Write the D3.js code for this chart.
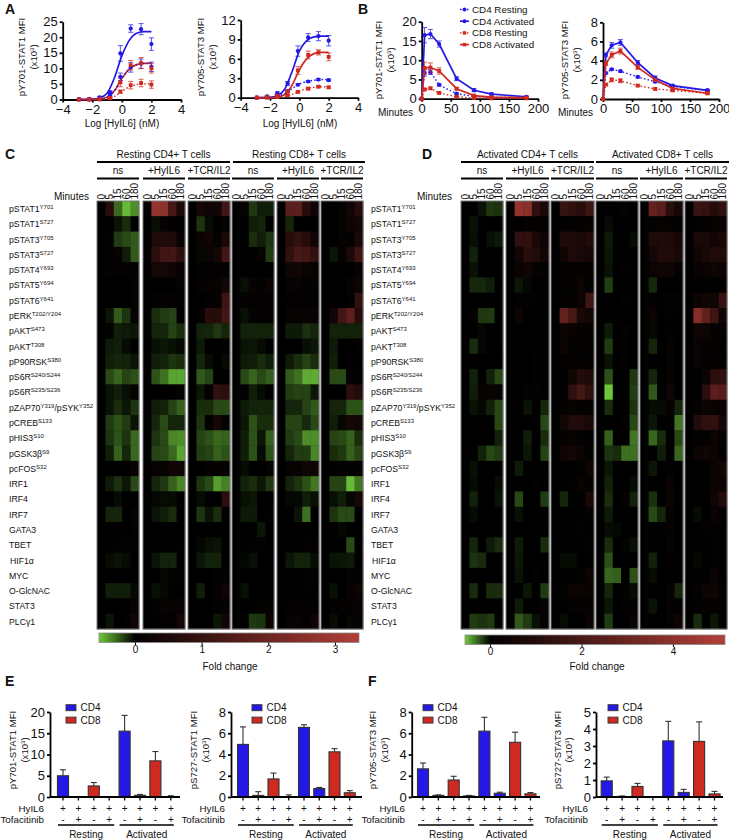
<!DOCTYPE html>
<html>
<head>
<meta charset="utf-8">
<script src="https://cdn.jsdelivr.net/npm/d3@7"></script>
<style>
  body { margin: 0; background: #fff; }
  text { font-family: "Liberation Sans", Arial, sans-serif; fill: #111; }
</style>
</head>
<body>
<div id="chart"></div>
<script>
// ---- dose response (A) ----
const logDose = [-2.9, -2.2, -1.5, -0.8, -0.1, 0.6, 1.3, 2.0];
const a1Cd4Act = [0.1, 0.2, 0.7, 2.3, 14.8, 22.8, 22.6, 17.8];
const a1Cd4ActErr = [0.1, 0.2, 0.3, 0.5, 2.5, 1.2, 1.8, 2];
const a1Cd8Act = [0, 0, 0.2, 0.5, 5.5, 11, 11.7, 10];
const a1Cd8ActErr = [0, 0, 0.1, 0.3, 1.4, 1.5, 1.8, 1.5];
const a1Cd4Rest = [0, 0, 0.3, 1.5, 7.3, 10.3, 11.5, 10.5];
const a1Cd4RestErr = [0, 0, 0.1, 0.4, 1.2, 1.5, 1.5, 1.5];
const a1Cd8Rest = [0, 0, 0, 0.4, 2.5, 4.6, 5.3, 4.8];
const a1Cd8RestErr = [0, 0, 0, 0.2, 0.5, 1.2, 1.2, 1.2];

const a2Cd4Act = [0, 0.2, 0.7, 2.2, 7.2, 9.3, 9.5, 8.8];
const a2Cd4ActErr = [0, 0.1, 0.2, 0.3, 0.8, 0.6, 0.7, 0.8];
const a2Cd8Act = [0, 0.1, 0.3, 1, 4.2, 6.6, 7, 6.3];
const a2Cd8ActErr = [0, 0, 0.1, 0.2, 0.6, 0.6, 0.4, 0.6];
const a2Cd4Rest = [0, 0.1, 0.4, 1, 2, 2.5, 2.8, 2.7];
const a2Cd4RestErr = [0, 0, 0.1, 0.1, 0.15, 0.15, 0.15, 0.15];
const a2Cd8Rest = [0, 0, 0.1, 0.4, 0.9, 1.4, 1.7, 1.6];
const a2Cd8RestErr = [0, 0, 0, 0.1, 0.15, 0.2, 0.15, 0.15];

// fitted curves
const fitDose = [-3, -2, -1.5, -1, -0.5, 0, 0.5, 1, 1.5, 2];
const a1FitCd4Act = [0, 0.1, 0.5, 2, 7, 14, 19, 21.3, 21.8, 21.8];
const a1FitCd8Act = [0, 0, 0.1, 0.7, 2.8, 6.8, 9.8, 11.2, 11.6, 11.7];
const a1FitCd8Rest = [0, 0, 0, 0.2, 1, 2.6, 4, 4.8, 5, 5.1];
const a2FitCd4Act = [0, 0.05, 0.3, 1.3, 4, 7.2, 8.8, 9.4, 9.5, 9.5];
const a2FitCd8Act = [0, 0, 0.1, 0.5, 1.9, 4.3, 6, 6.8, 7, 7];
const a2FitCd4Rest = [0, 0, 0.2, 0.6, 1.4, 2.1, 2.5, 2.7, 2.8, 2.8];
const a2FitCd8Rest = [0, 0, 0, 0.2, 0.5, 1, 1.4, 1.6, 1.7, 1.7];

// ---- time course (B) ----
const minutes = [0, 5, 15, 30, 60, 90, 120, 180];
const b1Cd4Act = [0, 16.5, 16.8, 14.2, 5.2, 2.2, 1.2, 0.5];
const b1Cd4ActErr = [0, 2, 1.2, 0.8, 0.5, 0.4, 0.3, 0.2];
const b1Cd8Act = [0, 8, 8.1, 7.2, 2.6, 0.8, 0.4, 0.3];
const b1Cd8ActErr = [0, 1.5, 1.2, 0.8, 0.3, 0.2, 0.1, 0.1];
const b1Cd4Rest = [0, 6.7, 6.9, 3.6, 1.3, 0.6, 0.3, 0.3];
const b1Cd4RestErr = [0, 0.8, 0.6, 0.3, 0.2, 0.1, 0.1, 0.1];
const b1Cd8Rest = [0, 2.4, 2.7, 1.5, 0.5, 0.2, 0.1, 0.1];
const b1Cd8RestErr = [0, 0.3, 0.3, 0.2, 0.1, 0.1, 0.05, 0.05];

const b2Cd4Act = [0, 4.6, 5.6, 5.9, 3.8, 2.2, 1.4, 0.9];
const b2Cd4ActErr = [0, 0.2, 0.3, 0.3, 0.2, 0.2, 0.1, 0.1];
const b2Cd8Act = [0, 3.7, 4.6, 5, 3.3, 2, 1.1, 0.6];
const b2Cd8ActErr = [0, 0.2, 0.3, 0.3, 0.2, 0.1, 0.1, 0.1];
const b2Cd4Rest = [0, 2.7, 3.1, 2.9, 2.3, 1.8, 1.3, 0.9];
const b2Cd4RestErr = [0, 0.1, 0.1, 0.1, 0.1, 0.1, 0.1, 0.1];
const b2Cd8Rest = [0, 1.5, 2, 1.9, 1.4, 1.05, 0.9, 0.6];
const b2Cd8RestErr = [0, 0.1, 0.2, 0.2, 0.1, 0.1, 0.1, 0.1];

// ---- heatmaps (C, D), fold change x 100, 6 blocks of 5 time points per row ----
const rowLabels = ["pSTAT1^Y701", "pSTAT1^S727", "pSTAT3^Y705", "pSTAT3^S727", "pSTAT4^Y693", "pSTAT5^Y694",
  "pSTAT6^Y641", "pERK^T202/Y204", "pAKT^S473", "pAKT^T308", "pP90RSK^S380", "pS6R^S240/S244", "pS6R^S235/S236",
  "pZAP70^Y319/pSYK^Y352", "pCREB^S133", "pHIS3^S10", "pGSK3β^S9", "pcFOS^S32", "IRF1", "IRF4", "IRF7", "GATA3",
  "TBET", "HIF1α", "MYC", "O-GlcNAC", "STAT3", "PLCγ1"];
const timeLabels = ["0", "5", "15", "60", "180"];
const blockLabels = ["ns", "+HyIL6", "+TCR/IL2", "ns", "+HyIL6", "+TCR/IL2"];

const heatC = [
  [0,70,-28,-50,-38, 0,280,260,130,50, 0,40,30,30,120, 0,15,-15,-8,-8, 0,160,170,70,25, 0,0,10,30,70],
  [0,0,-5,-12,0, 0,-4,10,0,0, 0,-14,-3,0,12, 0,0,-8,-10,0, 0,-10,0,0,0, 0,0,10,25,35],
  [0,10,-16,-20,-24, 0,60,60,55,15, 0,20,25,10,45, 0,0,-12,-8,-14, 0,70,90,70,30, 0,0,10,10,50],
  [0,5,15,-8,-24, 0,80,120,120,80, 0,-2,20,40,120, 0,0,0,15,-16, 0,90,130,120,90, 0,-6,10,50,110],
  [0,10,5,5,5, 0,40,40,30,15, 0,5,5,5,10, 0,0,0,0,0, 0,30,30,20,15, 0,0,0,0,15],
  [0,0,0,0,10, 0,0,0,0,15, 0,10,15,15,35, 0,-4,15,10,20, 0,15,15,5,10, 0,0,0,15,20],
  [0,0,0,0,10, 0,5,10,5,10, 0,0,5,10,110, 0,10,5,5,5, 0,5,5,5,5, 0,0,0,5,90],
  [0,-6,-24,-14,10, 0,-12,-16,-18,0, 0,10,70,70,120, 0,-4,10,5,5, 0,15,15,15,15, 0,30,120,170,70],
  [0,10,-8,-7,-6, 0,-10,-10,-18,-12, 0,-9,-10,-15,-10, 0,-9,-9,-9,-9, 0,-7,-7,-13,-10, 0,-9,-9,-9,-9],
  [0,-7,-8,-3,0, 0,-4,-6,-4,-2, 0,-7,0,0,5, 0,-5,-6,-3,0, 0,0,0,-4,-6, 0,-7,0,0,5],
  [0,-8,-10,-9,-5, 0,-8,-9,-14,-12, 0,-10,-3,0,-3, 0,-7,-8,-12,-8, 0,-7,-12,-18,-12, 0,-8,0,5,0],
  [0,-20,-27,-18,-22, 0,-22,-30,-44,-44, 0,-24,-18,0,3, 0,-20,-27,-20,-25, 0,-24,-30,-46,-46, 0,-20,-20,5,5],
  [0,-5,-8,-4,10, 0,2,2,0,10, 0,-6,5,90,80, 0,5,-8,-3,3, 0,-16,-18,-18,-6, 0,0,0,80,60],
  [0,-5,-12,-6,-14, 0,-8,-9,-18,-26, 0,-12,-12,-20,-20, 0,-7,-9,-9,-9, 0,-10,-10,-18,-24, 0,-10,-10,-22,-22],
  [0,-16,-22,-16,-5, 0,-10,-20,-10,-10, 0,-14,5,40,10, 0,-6,-22,-12,-12, 0,-18,-18,-11,-20, 0,-8,-2,40,35],
  [0,-14,-22,-14,-28, 0,-14,-20,-36,-38, 0,-18,-22,-28,-26, 0,-8,-22,-6,-26, 0,-16,-20,-38,-38, 0,-18,-20,-26,-12],
  [0,-8,-26,-10,-28, 0,-18,-20,-28,-44, 0,-16,-18,-26,-22, 0,-8,-22,-3,-22, 0,-10,-16,-16,-36, 0,-12,-15,-26,-18],
  [0,0,0,0,15, 0,15,15,30,30, 0,0,10,10,15, 0,-3,0,0,10, 0,15,15,25,25, 0,0,5,5,10],
  [0,-7,-13,-6,-20, 0,-10,-15,-26,-36, 0,-14,-20,-42,-34, 0,-9,-12,-6,-15, 0,-9,-14,-22,-32, 0,-18,-18,-50,-32],
  [0,0,-3,0,0, 0,-2,-3,-3,0, 0,-3,0,0,80, 0,-4,-6,0,0, 0,-2,-2,-8,-4, 0,-4,-8,-2,40],
  [0,-10,-10,0,10, 0,-5,-8,-12,0, 0,-14,-5,-12,5, 0,-7,-7,0,8, 0,0,-5,-30,0, 0,-14,-20,-20,0],
  [0,0,0,0,5, 0,0,0,0,0, 0,0,0,0,0, 0,0,0,-6,0, 0,0,0,0,0, 0,0,-2,0,0],
  [0,3,5,5,8, 0,0,3,3,5, 0,-2,-4,-5,0, 0,0,8,5,0, 0,3,3,10,8, 0,0,0,-20,0],
  [0,-3,-5,-3,0, 0,-5,-9,-9,0, 0,-6,-9,-9,0, 0,-2,-4,0,0, 0,-6,-9,-9,-3, 0,-5,-6,-7,0],
  [0,0,3,0,0, 0,0,-2,5,5, 0,0,0,10,10, 0,0,0,0,0, 0,0,0,5,5, 0,0,0,10,10],
  [0,-8,-8,-8,-2, 0,-4,-2,3,0, 0,-8,0,10,25, 0,-4,0,0,0, 0,0,0,5,0, 0,-4,0,15,20],
  [0,0,0,0,15, 0,10,15,15,15, 0,0,0,5,15, 0,0,0,10,10, 0,5,5,5,5, 0,10,10,10,15],
  [0,-5,0,5,30, 0,3,5,5,35, 0,0,0,-6,30, 0,10,-15,-14,20, 0,15,15,5,25, 0,-3,0,-2,15]
];

const heatD = [
  [0,5,-5,-15,-14, 0,420,390,130,70, 0,150,130,110,170, 0,5,5,15,5, 0,280,250,110,60, 0,160,140,100,130],
  [0,-5,0,0,0, 0,0,10,10,10, 0,5,10,15,15, 0,-3,0,0,0, 0,15,15,15,5, 0,5,10,25,25],
  [0,-4,0,-4,-7, 0,130,130,70,40, 0,80,80,70,90, 0,-7,0,0,-3, 0,80,90,80,60, 0,70,70,50,70],
  [0,-9,0,0,0, 0,50,110,90,50, 0,40,80,70,60, 0,-6,0,0,0, 0,60,90,90,70, 0,50,70,90,80],
  [0,-5,0,5,5, 0,25,40,15,10, 0,15,15,15,15, 0,-5,0,10,5, 0,30,40,40,10, 0,25,25,40,30],
  [0,-11,-11,-8,3, 0,-6,-2,0,5, 0,10,10,30,10, 0,-17,0,0,0, 0,-11,0,0,0, 0,0,5,5,10],
  [0,0,0,0,5, 0,10,10,10,5, 0,10,10,30,170, 0,0,0,10,5, 0,10,5,15,10, 0,30,50,40,150],
  [0,10,-15,-16,0, 0,35,0,5,5, 0,280,200,70,50, 0,0,0,0,0, 0,30,0,10,5, 0,380,270,170,40],
  [0,0,-2,5,5, 0,0,5,5,5, 0,30,25,15,15, 0,-7,0,15,0, 0,-2,0,10,5, 0,40,35,20,20],
  [0,-12,-2,0,0, 0,0,0,5,5, 0,30,15,10,10, 0,-16,0,10,0, 0,-10,0,15,0, 0,25,20,15,10],
  [0,0,0,0,0, 0,0,0,10,5, 0,10,10,10,10, 0,-5,0,10,0, 0,0,0,15,0, 0,25,20,15,10],
  [0,-9,0,-9,-20, 0,0,0,10,5, 0,0,50,100,80, 0,-22,0,5,-15, 0,-10,0,20,0, 0,0,30,120,130],
  [0,-8,25,25,20, 0,0,15,15,5, 0,0,130,190,130, 0,-54,5,10,-17, 0,-24,0,40,0, 0,0,120,260,240],
  [0,-5,-2,-9,-20, 0,0,-5,5,-10, 0,15,25,15,15, 0,-12,0,5,-14, 0,-3,-3,15,-10, 0,15,30,25,25],
  [0,0,0,0,-20, 0,0,0,0,-20, 0,50,90,90,70, 0,0,0,10,-20, 0,-6,0,5,-32, 0,90,130,130,60],
  [0,0,0,0,-9, 0,0,-8,5,-12, 0,15,25,15,5, 0,-26,0,3,-32, 0,-28,-12,5,-20, 0,10,10,30,20],
  [0,0,-9,-20,-16, 0,0,-6,3,-18, 0,40,60,30,15, 0,-14,-12,-30,-30, 0,0,-8,5,-28, 0,30,40,30,10],
  [0,-4,0,0,5, 0,-7,0,0,0, 0,0,5,10,40, 0,-6,0,3,5, 0,-6,0,10,0, 0,0,5,30,50],
  [0,-3,0,0,-3, 0,0,0,10,0, 0,5,10,25,20, 0,-9,0,0,-3, 0,0,0,25,0, 0,5,10,30,30],
  [0,-9,0,0,-5, 0,-20,0,0,-16, 0,-10,0,5,70, 0,-12,0,15,-9, 0,-13,0,30,0, 0,0,0,40,90],
  [0,-3,0,5,5, 0,-4,0,0,5, 0,0,0,5,15, 0,-7,0,5,5, 0,-20,-10,15,0, 0,-3,0,25,15],
  [0,0,0,5,5, 0,0,0,0,0, 0,0,0,10,5, 0,-3,-2,0,0, 0,5,5,15,0, 0,0,10,10,5],
  [0,-10,0,-7,-12, 0,-7,0,0,-12, 0,0,0,5,10, 0,-12,0,15,-4, 0,0,0,15,0, 0,0,0,10,5],
  [0,-14,-12,0,0, 0,-6,0,0,0, 0,-3,-3,0,5, 0,-22,0,5,0, 0,-9,0,10,0, 0,-2,0,10,5],
  [0,0,0,5,5, 0,-5,0,10,0, 0,0,5,15,30, 0,-28,-26,0,-22, 0,-3,0,5,0, 0,0,5,25,10],
  [0,-12,0,-12,-12, 0,0,-6,5,-16, 0,15,30,30,25, 0,-10,5,10,-3, 0,0,0,20,-10, 0,15,30,40,15],
  [0,0,0,0,10, 0,-7,0,5,15, 0,5,15,15,15, 0,-6,0,10,10, 0,-5,0,20,10, 0,5,15,20,20],
  [0,-16,-14,-16,15, 0,-24,-16,-4,20, 0,-3,0,0,30, 0,-16,0,0,25, 0,0,0,15,40, 0,-12,0,-6,15]
];

// ---- bars (E, F) ----
const barCells = ["CD4", "CD4", "CD8", "CD8", "CD4", "CD4", "CD8", "CD8"];
const hyil6Row = ["+", "+", "+", "+", "+", "+", "+", "+"];
const tofaRow = ["-", "+", "-", "+", "-", "+", "-", "+"];
const e1Bars = [5, 0, 2.6, 0, 15.5, 0.4, 8.5, 0.1];
const e1Errs = [1.4, 0, 0.8, 0, 3.7, 0.2, 2.2, 0.2];
const e2Bars = [4.95, 0.15, 1.7, 0, 6.55, 0.8, 4.25, 0.4];
const e2Errs = [1.65, 0.35, 0.55, 0.2, 0.25, 0.1, 0.3, 0.2];
const f1Bars = [2.65, 0.15, 1.6, 0.1, 6.2, 0.35, 5.15, 0.3];
const f1Errs = [0.55, 0.05, 0.35, 0.05, 1.3, 0.1, 0.95, 0.12];
const f2Bars = [0.95, 0.03, 0.62, 0, 3.3, 0.27, 3.27, 0.18];
const f2Errs = [0.22, 0.03, 0.18, 0, 1.15, 0.18, 1.15, 0.15];

const BLUE = "#2418e6", RED = "#cf2a20";

const svg = d3.select("#chart").append("svg")
  .attr("width", 729)
  .attr("height", 840)
  .style("display", "block");

//////////
// HELPERS //
//////////
function label(x, y, str, size, anchor, weight) {
  return svg.append("text")
    .attr("x", x).attr("y", y)
    .attr("text-anchor", anchor || "start")
    .attr("font-size", size)
    .attr("font-weight", weight || "normal")
    .text(str);
}

// two rotated lines next to a y axis
function yTitle(x1, x2, cy, title) {
  svg.append("text")
    .attr("transform", `translate(${x1}, ${cy}) rotate(-90)`)
    .attr("text-anchor", "middle").attr("font-size", 9.6)
    .text(title);
  const t = svg.append("text")
    .attr("transform", `translate(${x2}, ${cy}) rotate(-90)`)
    .attr("text-anchor", "middle").attr("font-size", 9.6);
  t.append("tspan").text("(x10");
  t.append("tspan").attr("font-size", 6).attr("dy", -3).text("3");
  t.append("tspan").attr("dy", 3).text(")");
}

function styleAxis(g) {
  g.selectAll("path, line").attr("stroke", "#000").attr("stroke-width", 1.8);
  g.selectAll("text").attr("font-size", 13).attr("font-family", '"Liberation Sans", Arial, sans-serif');
  g.attr("font-family", null);
}

function drawAxes(box, xDomain, xTicks, yDomain, yTicks, xFormat) {
  const x = d3.scaleLinear().domain(xDomain).range([box.x0, box.x1]);
  const y = d3.scaleLinear().domain(yDomain).range([box.y0, box.y1]);
  svg.append("g")
    .attr("transform", `translate(0, ${box.y0})`)
    .call(d3.axisBottom(x).tickValues(xTicks).tickSize(3).tickPadding(2).tickSizeOuter(0).tickFormat(xFormat || d3.format("d")))
    .call(styleAxis);
  svg.append("g")
    .attr("transform", `translate(${box.x0}, 0)`)
    .call(d3.axisLeft(y).tickValues(yTicks).tickSize(3).tickPadding(2).tickSizeOuter(0).tickFormat(d3.format("d")))
    .call(styleAxis);
  return { x, y };
}

function errorBars(sc, xs, ys, errs, color) {
  const g = svg.append("g").attr("stroke", color).attr("stroke-width", 1).attr("opacity", 0.75);
  xs.forEach((xv, i) => {
    if (errs[i] <= 0) return;
    const px = sc.x(xv);
    g.append("line").attr("x1", px).attr("x2", px).attr("y1", sc.y(ys[i] - errs[i])).attr("y2", sc.y(ys[i] + errs[i]));
    [ys[i] - errs[i], ys[i] + errs[i]].forEach(v => {
      g.append("line").attr("x1", px - 2.5).attr("x2", px + 2.5).attr("y1", sc.y(v)).attr("y2", sc.y(v));
    });
  });
}

function markers(sc, xs, ys, color, square) {
  const sym = d3.symbol().type(square ? d3.symbolSquare : d3.symbolCircle).size(square ? 15 : 14);
  svg.append("g").selectAll("path")
    .data(xs)
    .join("path")
    .attr("d", sym)
    .attr("fill", color)
    .attr("transform", (d, i) => `translate(${sc.x(d)}, ${sc.y(ys[i])})`);
}

function seriesLine(sc, xs, ys, color, dotted, curve) {
  const line = d3.line()
    .x(d => sc.x(d))
    .y((d, i) => sc.y(ys[i]))
    .curve(curve || d3.curveLinear);
  svg.append("path")
    .attr("d", line(xs))
    .attr("fill", "none")
    .attr("stroke", color)
    .attr("stroke-width", dotted ? 1.4 : 1.7)
    .attr("stroke-dasharray", dotted ? "1.5,2.2" : null);
}

//////////
// PANEL A //
//////////
label(5, 14, "A", 14, "start", "bold");
label(358, 14, "B", 14, "start", "bold");

const a1 = drawAxes({ x0: 62.7, x1: 181, y0: 99.5, y1: 21.7 }, [-4, 4], [-4, -2, 0, 2, 4], [0, 25], [0, 5, 10, 15, 20, 25]);
yTitle(25, 37, 57, "pY701-STAT1 MFI");
label(122, 127, "Log [HyIL6] (nM)", 10, "middle");
seriesLine(a1, fitDose, a1FitCd4Act, BLUE, false, d3.curveMonotoneX);
seriesLine(a1, fitDose, a1FitCd8Act, RED, false, d3.curveMonotoneX);
seriesLine(a1, fitDose, a1FitCd8Act, BLUE, true, d3.curveMonotoneX);
seriesLine(a1, fitDose, a1FitCd8Rest, RED, true, d3.curveMonotoneX);
errorBars(a1, logDose, a1Cd4Act, a1Cd4ActErr, BLUE);
errorBars(a1, logDose, a1Cd4Rest, a1Cd4RestErr, BLUE);
errorBars(a1, logDose, a1Cd8Act, a1Cd8ActErr, RED);
errorBars(a1, logDose, a1Cd8Rest, a1Cd8RestErr, RED);
markers(a1, logDose, a1Cd4Act, BLUE, false);
markers(a1, logDose, a1Cd4Rest, BLUE, false);
markers(a1, logDose, a1Cd8Act, RED, true);
markers(a1, logDose, a1Cd8Rest, RED, true);

const a2 = drawAxes({ x0: 240.7, x1: 358, y0: 97.7, y1: 20 }, [-4, 4], [-4, -2, 0, 2, 4], [0, 12], [0, 3, 6, 9, 12]);
yTitle(204, 216, 57, "pY705-STAT3 MFI");
label(300, 127, "Log [HyIL6] (nM)", 10, "middle");
seriesLine(a2, fitDose, a2FitCd4Act, BLUE, false, d3.curveMonotoneX);
seriesLine(a2, fitDose, a2FitCd8Act, RED, false, d3.curveMonotoneX);
seriesLine(a2, fitDose, a2FitCd4Rest, BLUE, true, d3.curveMonotoneX);
seriesLine(a2, fitDose, a2FitCd8Rest, RED, true, d3.curveMonotoneX);
errorBars(a2, logDose, a2Cd4Act, a2Cd4ActErr, BLUE);
errorBars(a2, logDose, a2Cd4Rest, a2Cd4RestErr, BLUE);
errorBars(a2, logDose, a2Cd8Act, a2Cd8ActErr, RED);
errorBars(a2, logDose, a2Cd8Rest, a2Cd8RestErr, RED);
markers(a2, logDose, a2Cd4Act, BLUE, false);
markers(a2, logDose, a2Cd4Rest, BLUE, false);
markers(a2, logDose, a2Cd8Act, RED, true);
markers(a2, logDose, a2Cd8Rest, RED, true);

//////////
// PANEL B //
//////////
function timeCourse(box, yDomain, yTicks, series) {
  const sc = drawAxes(box, [0, 200], [0, 50, 100, 150, 200], yDomain, yTicks);
  series.forEach(s => {
    seriesLine(sc, minutes, s.ys, s.color, s.dotted);
    errorBars(sc, minutes, s.ys, s.errs, s.color);
    markers(sc, minutes, s.ys, s.color, s.square);
  });
}

timeCourse({ x0: 421.7, x1: 538, y0: 98.7, y1: 21.7 }, [0, 20], [0, 5, 10, 15, 20], [
  { ys: b1Cd4Rest, errs: b1Cd4RestErr, color: BLUE, dotted: true },
  { ys: b1Cd4Act, errs: b1Cd4ActErr, color: BLUE },
  { ys: b1Cd8Rest, errs: b1Cd8RestErr, color: RED, dotted: true, square: true },
  { ys: b1Cd8Act, errs: b1Cd8ActErr, color: RED, square: true }
]);
timeCourse({ x0: 603, x1: 719, y0: 99, y1: 22.3 }, [0, 8], [0, 2, 4, 6, 8], [
  { ys: b2Cd4Rest, errs: b2Cd4RestErr, color: BLUE, dotted: true },
  { ys: b2Cd4Act, errs: b2Cd4ActErr, color: BLUE },
  { ys: b2Cd8Rest, errs: b2Cd8RestErr, color: RED, dotted: true, square: true },
  { ys: b2Cd8Act, errs: b2Cd8ActErr, color: RED, square: true }
]);
yTitle(382, 394, 60, "pY701-STAT1 MFI");
yTitle(568, 580, 60, "pY705-STAT3 MFI");
label(378, 116, "Minutes", 10);
label(558, 116, "Minutes", 10);

const legendB = [
  { name: "CD4 Resting", color: BLUE, dotted: true },
  { name: "CD4 Activated", color: BLUE },
  { name: "CD8 Resting", color: RED, dotted: true, square: true },
  { name: "CD8 Activated", color: RED, square: true }
];
legendB.forEach((d, i) => {
  const ly = 9.5 + i * 11.7;
  const g = svg.append("g").attr("transform", `translate(460, ${ly})`);
  g.append("line").attr("x1", 0).attr("x2", 9).attr("stroke", d.color)
    .attr("stroke-width", d.dotted ? 1.4 : 1.7).attr("stroke-dasharray", d.dotted ? "1.5,2" : null);
  g.append("path").attr("d", d3.symbol().type(d.square ? d3.symbolSquare : d3.symbolCircle).size(12))
    .attr("transform", "translate(4.5, 0)").attr("fill", d.color);
  label(472, ly + 3.4, d.name, 9.8);
});

//////////
// HEATMAPS //
//////////
function rowLabel(x, y, str) {
  const t = svg.append("text").attr("x", x).attr("y", y + 3.3).attr("font-size", 8.7);
  // split base text and ^superscript parts
  let back = false;
  str.split(/(\^(?:[A-Z0-9]+\/[A-Z0-9]+|[A-Z0-9]+))/).filter(s => s).forEach(s => {
    if (s[0] === "^") {
      t.append("tspan").attr("font-size", 6).attr("dy", -3).text(s.slice(1));
      back = true;
    } else {
      t.append("tspan").attr("dy", back ? 3 : null).text(s);
      back = false;
    }
  });
}

function heatmap(opt) {
  const color = d3.scaleLinear()
    .domain([opt.domain[0], 0, opt.domain[1] * 0.5, opt.domain[1]])
    .range(["#6fc93c", "#000000", "#5c1f1c", "#b23f38"]);

  const y = d3.scaleBand().domain(d3.range(rowLabels.length)).range([201, 629]);
  const x = d3.scaleBand().domain(d3.range(timeLabels.length)).paddingInner(0);

  opt.blocks.forEach((b, bi) => {
    x.range(b);
    const g = svg.append("g");
    g.append("rect")
      .attr("x", b[0]).attr("y", 201).attr("width", b[1] - b[0]).attr("height", 428)
      .attr("fill", "#000");
    opt.data.forEach((row, ri) => {
      timeLabels.forEach((t, ci) => {
        const v = row[bi * 5 + ci];
        g.append("rect")
          .attr("x", x(ci)).attr("y", y(ri))
          .attr("width", x.bandwidth() + 0.3).attr("height", y.bandwidth() + 0.3)
          .attr("fill", color(v));
      });
    });
    g.append("rect")
      .attr("x", b[0]).attr("y", 201).attr("width", b[1] - b[0]).attr("height", 428)
      .attr("fill", "none").attr("stroke", "#777").attr("stroke-width", 1);

    // column labels
    timeLabels.forEach((t, ci) => {
      svg.append("text")
        .attr("transform", `translate(${x(ci) + x.bandwidth() / 2 + 3.4}, 199.5) rotate(-90)`)
        .attr("font-size", 10).text(t);
    });
    // treatment header
    svg.append("line").attr("x1", b[0]).attr("x2", b[1]).attr("y1", 178.5).attr("y2", 178.5)
      .attr("stroke", "#000").attr("stroke-width", 2);
    label((b[0] + b[1]) / 2, 174, blockLabels[bi], 10, "middle");
  });

  // cell type headers
  opt.heads.forEach(h => {
    svg.append("line").attr("x1", h.x0).attr("x2", h.x1).attr("y1", 162).attr("y2", 162)
      .attr("stroke", "#000").attr("stroke-width", 2);
    label((h.x0 + h.x1) / 2, 158, h.name, 10, "middle");
  });

  label(opt.minutesX, 199.5, "Minutes", 10, "end");
  rowLabels.forEach((r, i) => rowLabel(opt.labelX + (r === "HIF1α" ? 1 : 0), y(i) + y.bandwidth() / 2, r));

  // colour bar
  const gradId = "grad" + opt.id;
  const grad = svg.append("defs").append("linearGradient").attr("id", gradId);
  const span = opt.barDomain[1] - opt.barDomain[0];
  color.domain().forEach((d, i) => {
    grad.append("stop")
      .attr("offset", (d - opt.barDomain[0]) / span)
      .attr("stop-color", color.range()[i]);
  });
  svg.append("rect")
    .attr("x", opt.bar[0]).attr("y", opt.barY)
    .attr("width", opt.bar[1] - opt.bar[0]).attr("height", 9.5)
    .attr("fill", `url(#${gradId})`)
    .attr("stroke", "#888").attr("stroke-width", 0.8);
  const bx = d3.scaleLinear().domain(opt.barDomain.map(d => d / 100)).range(opt.bar);
  svg.append("g")
    .attr("transform", `translate(0, ${opt.barY + 9.5})`)
    .call(d3.axisBottom(bx).tickValues(opt.barTicks).tickSize(2.5).tickPadding(1).tickFormat(d3.format("d")))
    .call(g => {
      g.select(".domain").remove();
      g.selectAll("line").attr("stroke", "#000");
      g.selectAll("text").attr("font-size", 10).attr("font-family", '"Liberation Sans", Arial, sans-serif');
    });
  label(opt.barLabelX, 670, "Fold change", 10, "middle");
}

label(5, 159, "C", 14, "start", "bold");
label(422, 159, "D", 14, "start", "bold");

heatmap({
  id: "C",
  data: heatC,
  domain: [-54, 336],
  blocks: [[97, 139], [143, 185], [188, 230], [232, 274], [277, 319], [321, 363]],
  heads: [{ x0: 97, x1: 230, name: "Resting CD4+ T cells" }, { x0: 233, x1: 365, name: "Resting CD8+ T cells" }],
  minutesX: 89,
  labelX: 9,
  bar: [99, 359],
  barY: 633,
  barDomain: [-54, 336],
  barTicks: [0, 1, 2, 3],
  barLabelX: 230
});

heatmap({
  id: "D",
  data: heatD,
  domain: [-55, 514],
  blocks: [[461, 503], [506, 549], [551, 594], [596, 638], [640, 683], [685, 727]],
  heads: [{ x0: 461, x1: 594, name: "Activated CD4+ T cells" }, { x0: 596, x1: 729, name: "Activated CD8+ T cells" }],
  minutesX: 452,
  labelX: 371,
  bar: [465, 725],
  barY: 635,
  barDomain: [-55, 514],
  barTicks: [0, 2, 4],
  barLabelX: 597
});

//////////
// BAR PANELS //
//////////
function barPanel(opt) {
  const x = d3.scaleBand()
    .domain(d3.range(barCells.length))
    .range([opt.first - opt.step / 2, opt.first + opt.step * 7.5])
    .paddingInner(0.28)
    .paddingOuter(0.14);
  const y = d3.scaleLinear().domain([0, opt.max]).range([797, 712]);
  const colour = d3.scaleOrdinal().domain(["CD4", "CD8"]).range([BLUE, RED]);

  // error bars behind the bars
  const errG = svg.append("g").attr("stroke", "#333").attr("stroke-width", 1.1);
  opt.errs.forEach((e, i) => {
    if (e <= 0) return;
    const cx = x(i) + x.bandwidth() / 2;
    errG.append("line").attr("x1", cx).attr("x2", cx).attr("y1", y(opt.vals[i])).attr("y2", y(opt.vals[i] + e));
    errG.append("line").attr("x1", cx - 3).attr("x2", cx + 3).attr("y1", y(opt.vals[i] + e)).attr("y2", y(opt.vals[i] + e));
  });

  svg.append("g").selectAll("rect")
    .data(opt.vals)
    .join("rect")
    .attr("x", (d, i) => x(i))
    .attr("y", d => y(d))
    .attr("width", x.bandwidth())
    .attr("height", d => y(0) - y(d))
    .attr("fill", (d, i) => colour(barCells[i]))
    .attr("stroke", "#333")
    .attr("stroke-width", 1.1);

  svg.append("g")
    .attr("transform", `translate(${opt.axisX}, 0)`)
    .call(d3.axisLeft(y).tickValues(opt.ticks).tickSize(3).tickPadding(2).tickSizeOuter(0).tickFormat(d3.format("d")))
    .call(styleAxis);

  svg.append("line").attr("x1", opt.axisX).attr("x2", opt.axisEnd).attr("y1", 797).attr("y2", 797)
    .attr("stroke", "#000").attr("stroke-width", 1.8);
  barCells.forEach((c, i) => {
    const cx = x(i) + x.bandwidth() / 2;
    svg.append("line").attr("x1", cx).attr("x2", cx).attr("y1", 797).attr("y2", 800.5)
      .attr("stroke", "#000").attr("stroke-width", 1.3);
    label(cx, 811.5, hyil6Row[i], 10, "middle");
    label(cx, 822.5, tofaRow[i], 10, "middle");
  });

  label(opt.rowEnd, 811.5, "HyIL6", 9.8, "end");
  label(opt.rowEnd, 822.5, "Tofacitinib", 9.8, "end");

  // resting / activated groups
  const c0 = x(0) + x.bandwidth() / 2, c3 = x(3) + x.bandwidth() / 2,
    c4 = x(4) + x.bandwidth() / 2, c7 = x(7) + x.bandwidth() / 2;
  [[c0 - 5, c3 + 5, "Resting"], [c4 - 5, c7 + 3, "Activated"]].forEach(g => {
    svg.append("line").attr("x1", g[0]).attr("x2", g[1]).attr("y1", 825).attr("y2", 825)
      .attr("stroke", "#000").attr("stroke-width", 1.6);
    label((g[0] + g[1]) / 2, 838, g[2], 10, "middle");
  });

  yTitle(opt.t1, opt.t2, 750, opt.title);

  // legend
  ["CD4", "CD8"].forEach((c, i) => {
    const cy = 707.7 + i * 12.4;
    svg.append("rect").attr("x", opt.legendX).attr("y", cy - 3).attr("width", 10).attr("height", 6)
      .attr("fill", colour(c)).attr("stroke", "#333").attr("stroke-width", 0.9);
    label(opt.legendX + 14.5, cy + 3.6, c, 10);
  });
}

label(5, 686, "E", 14, "start", "bold");
label(368, 686, "F", 14, "start", "bold");

barPanel({ vals: e1Bars, errs: e1Errs, max: 20, ticks: [0, 5, 10, 15, 20], title: "pY701-STAT1 MFI",
  first: 63, step: 15.4, axisX: 50, axisEnd: 180, rowEnd: 44, t1: 16, t2: 28, legendX: 66 });
barPanel({ vals: e2Bars, errs: e2Errs, max: 8, ticks: [0, 2, 4, 6, 8], title: "pS727-STAT1 MFI",
  first: 243, step: 15.25, axisX: 231, axisEnd: 362, rowEnd: 225, t1: 197, t2: 209, legendX: 252 });
barPanel({ vals: f1Bars, errs: f1Errs, max: 8, ticks: [0, 2, 4, 6, 8], title: "pY705-STAT3 MFI",
  first: 423, step: 15.35, axisX: 411.7, axisEnd: 540, rowEnd: 405, t1: 376, t2: 388, legendX: 423 });
barPanel({ vals: f2Bars, errs: f2Errs, max: 5, ticks: [0, 1, 2, 3, 4, 5], title: "pS727-STAT3 MFI",
  first: 606.7, step: 15.4, axisX: 596, axisEnd: 723, rowEnd: 588, t1: 561, t2: 572, legendX: 608 });
</script>
</body>
</html>
